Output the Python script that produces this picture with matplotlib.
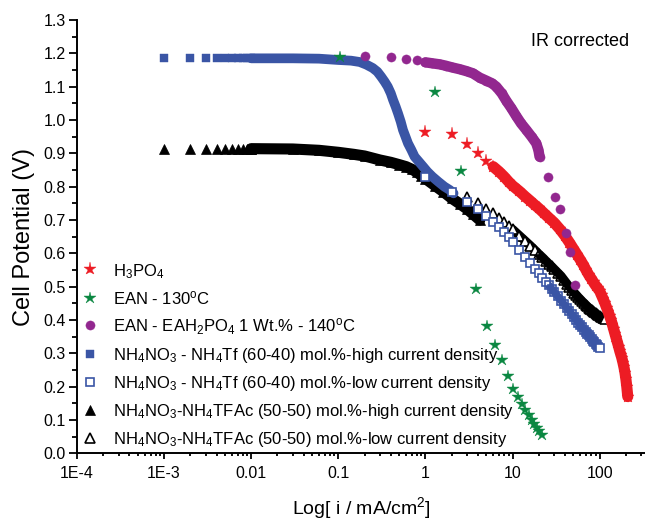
import numpy as np
import matplotlib
matplotlib.use("Agg")
import matplotlib.pyplot as plt
from matplotlib.ticker import LogLocator, MultipleLocator, FixedLocator, FixedFormatter, NullFormatter, FormatStrFormatter

plt.rcParams['font.family'] = ['Liberation Sans', 'DejaVu Sans']
plt.rcParams['mathtext.fontset'] = 'custom'
plt.rcParams['mathtext.rm'] = 'Liberation Sans'
plt.rcParams['mathtext.it'] = 'Liberation Sans:italic'
plt.rcParams['mathtext.bf'] = 'Liberation Sans:bold'
plt.rcParams['mathtext.default'] = 'regular'

# ---------------- data ----------------
series_labels = [
    r'H$_3$PO$_4$',
    r'EAN - 130$^o$C',
    r'EAN - EAH$_2$PO$_4$ 1 Wt.% - 140$^o$C',
    r'NH$_4$NO$_3$ - NH$_4$Tf (60-40) mol.%-high current density',
    r'NH$_4$NO$_3$ - NH$_4$Tf (60-40) mol.%-low current density',
    r'NH$_4$NO$_3$-NH$_4$TFAc (50-50) mol.%-high current density',
    r'NH$_4$NO$_3$-NH$_4$TFAc (50-50) mol.%-low current density',
]

# H3PO4 (red stars)
h3po4_sparse_i = [1, 2, 3, 4, 5]
h3po4_sparse_v = [0.963, 0.957, 0.927, 0.900, 0.878]
h3po4_dense_i = [6, 7, 8, 9, 10, 12, 14, 16, 18, 20, 23, 26, 30, 35, 40, 45, 50, 55, 60,
                 65, 70, 75, 80, 85, 90, 95, 100, 105, 110, 115, 120, 125, 130, 135, 140,
                 145, 150, 155, 160, 165, 170, 175, 180, 185, 190, 195, 200, 205, 210]
h3po4_dense_v = [0.860, 0.845, 0.830, 0.815, 0.803, 0.786, 0.770, 0.757, 0.745, 0.735, 0.720,
                 0.707, 0.692, 0.672, 0.652, 0.632, 0.613, 0.596, 0.580, 0.565, 0.549, 0.535,
                 0.524, 0.513, 0.503, 0.495, 0.487, 0.474, 0.462, 0.450, 0.437, 0.425, 0.412,
                 0.400, 0.386, 0.372, 0.358, 0.345, 0.332, 0.320, 0.307, 0.296, 0.285, 0.272,
                 0.258, 0.242, 0.222, 0.198, 0.170]

# EAN - 130 C (green stars)
ean_i = [0.105, 1.27, 2.54, 3.81, 5.08, 6.35, 7.62, 8.89, 10.16, 11.43, 12.7, 13.97,
         15.24, 16.51, 17.78, 19.05, 20.32, 21.59]
ean_v = [1.19, 1.083, 0.848, 0.492, 0.383, 0.325, 0.280, 0.232, 0.193, 0.168, 0.148,
         0.130, 0.115, 0.100, 0.088, 0.077, 0.066, 0.055]

# EAN - EAH2PO4 1 wt% - 140 C (purple circles)
eap_low_i = [0.2, 0.4, 0.6, 0.8]
eap_low_v = [1.193, 1.188, 1.183, 1.180]
eap_band_i = [1.0, 1.2, 1.45, 1.7, 2.0, 2.5, 3.0, 3.5, 4.2, 5.0, 5.8, 6.5, 7.5, 8.5, 9.7,
              11.0, 12.5, 14.4, 16.5, 18.7, 19.8, 20.4]
eap_band_v = [1.173, 1.170, 1.167, 1.163, 1.158, 1.152, 1.146, 1.140, 1.127, 1.118, 1.110,
              1.100, 1.080, 1.057, 1.035, 1.012, 0.990, 0.970, 0.950, 0.930, 0.910, 0.890]
eap_high_i = [25.4, 30.3, 35.2, 40.5, 45.8, 51.4]
eap_high_v = [0.830, 0.770, 0.733, 0.660, 0.605, 0.505]

# NH4NO3-NH4Tf (60-40) high current density (blue filled squares)
tf_hi_sparse_i = [0.001, 0.002, 0.003, 0.004, 0.005, 0.006, 0.007, 0.008, 0.009, 0.010]
tf_hi_sparse_v = [1.185, 1.185, 1.185, 1.185, 1.185, 1.185, 1.185, 1.185, 1.185, 1.185]
tf_hi_band_i = [0.010, 0.03, 0.06, 0.10, 0.14, 0.176, 0.21, 0.248, 0.28, 0.31, 0.34, 0.369,
                0.40, 0.425, 0.455, 0.484, 0.52, 0.552, 0.59, 0.63, 0.69, 0.75, 0.84, 0.94,
                1.05, 1.2, 1.4, 1.65, 1.9, 2.1]
tf_hi_band_v = [1.185, 1.185, 1.184, 1.180, 1.178, 1.174, 1.166, 1.156, 1.145, 1.130, 1.115,
                1.100, 1.080, 1.060, 1.040, 1.020, 0.995, 0.970, 0.950, 0.930, 0.910, 0.890,
                0.875, 0.860, 0.845, 0.830, 0.815, 0.800, 0.790, 0.780]

# NH4NO3-NH4Tf (60-40) low current density (blue open squares)
tf_lo_i = [1, 2, 3, 4, 5, 6, 7, 8, 9, 10, 12, 14, 16, 18, 20, 22, 24, 26, 28, 30, 33, 36,
           39, 42, 45, 48, 51, 54, 57, 60, 63, 66, 69, 72, 75, 78, 81, 84, 87, 90, 93, 96, 100]
tf_lo_v = [0.828, 0.783, 0.755, 0.733, 0.712, 0.695, 0.680, 0.664, 0.648, 0.634, 0.609,
           0.588, 0.570, 0.554, 0.540, 0.527, 0.515, 0.504, 0.494, 0.484, 0.471, 0.458,
           0.447, 0.436, 0.426, 0.417, 0.408, 0.400, 0.392, 0.385, 0.378, 0.371, 0.365,
           0.359, 0.354, 0.348, 0.343, 0.338, 0.333, 0.328, 0.324, 0.320, 0.316]

# NH4NO3-NH4TFAc (50-50) high current density (black filled triangles)
tfac_hi_sparse_i = [0.001, 0.002, 0.003, 0.004, 0.005, 0.006, 0.007, 0.008, 0.009, 0.010]
tfac_hi_sparse_v = [0.912, 0.912, 0.912, 0.913, 0.913, 0.913, 0.914, 0.914, 0.914, 0.914]
tfac_hi_band_i = [0.010, 0.03, 0.06, 0.10, 0.15, 0.20, 0.30, 0.40, 0.50, 0.60, 0.70, 0.80,
                  0.90, 1.0, 1.3, 1.6, 2.0, 2.5, 3.0, 3.5, 4.2]
tfac_hi_band_v = [0.914, 0.913, 0.909, 0.903, 0.897, 0.892, 0.880, 0.873, 0.866, 0.860,
                  0.852, 0.843, 0.833, 0.824, 0.802, 0.785, 0.765, 0.748, 0.733, 0.718, 0.700]

# NH4NO3-NH4TFAc (50-50) low current density (black open triangles)
tfac_lo_i = [3, 4, 5, 6, 7, 8, 9, 10, 12, 14, 16, 18, 20, 22, 24, 26, 28, 30, 33, 36, 39,
             42, 45, 48, 51, 54, 57, 60, 63, 66, 69, 72, 75, 78, 81, 84, 87, 90, 93, 96,
             100, 104, 108, 112, 116]
tfac_lo_v = [0.768, 0.752, 0.733, 0.720, 0.706, 0.694, 0.683, 0.672, 0.653, 0.637, 0.623,
             0.610, 0.598, 0.588, 0.578, 0.569, 0.561, 0.553, 0.542, 0.532, 0.520, 0.509,
             0.499, 0.490, 0.482, 0.475, 0.468, 0.462, 0.456, 0.451, 0.446, 0.441, 0.437,
             0.433, 0.429, 0.426, 0.423, 0.420, 0.417, 0.414, 0.411, 0.409, 0.407, 0.405,
             0.404]

xtick_vals = [1e-4, 1e-3, 1e-2, 1e-1, 1, 10, 100]
xtick_labels = ['1E-4', '1E-3', '0.01', '0.1', '1', '10', '100']

# ---------------- colors / styles ----------------
RED = '#ED1C24'
GREEN = '#0A8741'
PURPLE = '#92278F'
BLUE = '#3A55A5'
BLACK = '#000000'

fig = plt.figure(figsize=(6.45, 5.2), dpi=100)
ax = fig.add_axes([77 / 645, (520 - 453.3) / 520, (645 - 77) / 645, 433.3 / 520])
ax.set_xscale('log')
ax.set_xlim(1e-4, 10 ** 2.52)
ax.set_ylim(0, 1.3)

def band(x, y, color, lw, z):
    ax.plot(x, y, '-', color=color, lw=lw, solid_capstyle='round',
            solid_joinstyle='round', zorder=z)

# black high
band(tfac_hi_band_i, tfac_hi_band_v, BLACK, 8.0, 2)
h6, = ax.plot(tfac_hi_sparse_i, tfac_hi_sparse_v, ls='none', marker='^', ms=7.8,
              mfc=BLACK, mec=BLACK, mew=0.5, zorder=2.1, label=series_labels[5])
ax.plot(tfac_hi_band_i, tfac_hi_band_v, ls='none', marker='^', ms=7.8,
        mfc=BLACK, mec=BLACK, mew=0.5, zorder=2.1)
# black low: dense part forms a solid band, sparse part shows open triangles
band(tfac_lo_i[7:], tfac_lo_v[7:], BLACK, 6.5, 2.9)
h7, = ax.plot(tfac_lo_i[:12], tfac_lo_v[:12], ls='none', marker='^', ms=7.5,
              mfc='white', mec=BLACK, mew=1.2, zorder=3, label=series_labels[6])
ax.plot(tfac_lo_i[12:-1], tfac_lo_v[12:-1], ls='none', marker='^', ms=7.5,
        mfc='none', mec=BLACK, mew=1.2, zorder=3)
ax.plot(tfac_lo_i[-1:], tfac_lo_v[-1:], ls='none', marker='^', ms=7.5,
        mfc='white', mec=BLACK, mew=1.2, zorder=3.05)
# blue high
band(tf_hi_band_i, tf_hi_band_v, BLUE, 7.0, 4)
h4, = ax.plot(tf_hi_sparse_i, tf_hi_sparse_v, ls='none', marker='s', ms=6,
              mfc=BLUE, mec=BLUE, mew=0.3, zorder=4.1, label=series_labels[3])
# blue low
band(tf_lo_i[14:], tf_lo_v[14:], BLUE, 5.5, 4.9)
h5, = ax.plot(tf_lo_i[:17], tf_lo_v[:17], ls='none', marker='s', ms=5.3,
              mfc='white', mec=BLUE, mew=1.2, zorder=5, label=series_labels[4])
ax.plot(tf_lo_i[17:-1], tf_lo_v[17:-1], ls='none', marker='s', ms=5.3,
        mfc='none', mec=BLUE, mew=1.2, zorder=5)
ax.plot(tf_lo_i[-1:], tf_lo_v[-1:], ls='none', marker='s', ms=5.3,
        mfc='white', mec=BLUE, mew=1.2, zorder=5.05)
# red
band(h3po4_dense_i, h3po4_dense_v, RED, 8.0, 6)
h1, = ax.plot(h3po4_sparse_i, h3po4_sparse_v, ls='none', marker='*', ms=9.5,
              mfc=RED, mec=RED, mew=0.3, zorder=6.1, label=series_labels[0])
ax.plot(h3po4_dense_i, h3po4_dense_v, ls='none', marker='*', ms=9.5,
        mfc=RED, mec=RED, mew=0.3, zorder=6.1)
# purple
band(eap_band_i, eap_band_v, PURPLE, 7.5, 7)
h3, = ax.plot(eap_low_i, eap_low_v, ls='none', marker='o', ms=6.6,
              mfc=PURPLE, mec=PURPLE, mew=0.3, zorder=7.1, label=series_labels[2])
ax.plot(eap_band_i, eap_band_v, ls='none', marker='o', ms=6.6,
        mfc=PURPLE, mec=PURPLE, mew=0.3, zorder=7.1)
ax.plot(eap_high_i, eap_high_v, ls='none', marker='o', ms=6.6,
        mfc=PURPLE, mec=PURPLE, mew=0.3, zorder=7.1)
# green
h2, = ax.plot(ean_i, ean_v, ls='none', marker='*', ms=9,
              mfc=GREEN, mec=GREEN, mew=0.3, zorder=8, label=series_labels[1])

# ---------------- axes styling ----------------
for s in ['top', 'right']:
    ax.spines[s].set_visible(False)
for s in ['left', 'bottom']:
    ax.spines[s].set_linewidth(1.4)

ax.xaxis.set_major_locator(FixedLocator(xtick_vals))
ax.xaxis.set_major_formatter(FixedFormatter(xtick_labels))
ax.xaxis.set_minor_locator(LogLocator(base=10, subs=np.arange(2, 10), numticks=50))
ax.xaxis.set_minor_formatter(NullFormatter())
ax.yaxis.set_major_locator(MultipleLocator(0.1))
ax.yaxis.set_minor_locator(MultipleLocator(0.05))
ax.yaxis.set_major_formatter(FormatStrFormatter('%.1f'))

ax.tick_params(axis='both', which='both', direction='out', width=1.3, labelsize=11.5)
ax.tick_params(axis='y', which='major', length=6, pad=2)
ax.tick_params(axis='y', which='minor', length=3.5)
ax.tick_params(axis='x', which='major', length=4.5, pad=5)
ax.tick_params(axis='x', which='minor', length=2.5)

ax.set_xlabel(r'Log[ i / mA/cm$^2$]', fontsize=14, labelpad=10)
ax.set_ylabel('Cell Potential (V)', fontsize=17, labelpad=6)

fig.text(531 / 645, 1 - 42 / 520, 'IR corrected', fontsize=13, va='center', ha='left')

handles = [h1, h2, h3, h4, h5, h6, h7]
leg = ax.legend(handles, series_labels, loc='upper left',
                bbox_to_anchor=((81.7 - 77) / 568, (453.3 - 262) / 433.3),
                frameon=False, fontsize=12, numpoints=1, handlelength=1.0,
                handleheight=1.0, handletextpad=0.88, labelspacing=0.54,
                borderpad=0, borderaxespad=0)

fig.savefig('out.png', dpi=100)
